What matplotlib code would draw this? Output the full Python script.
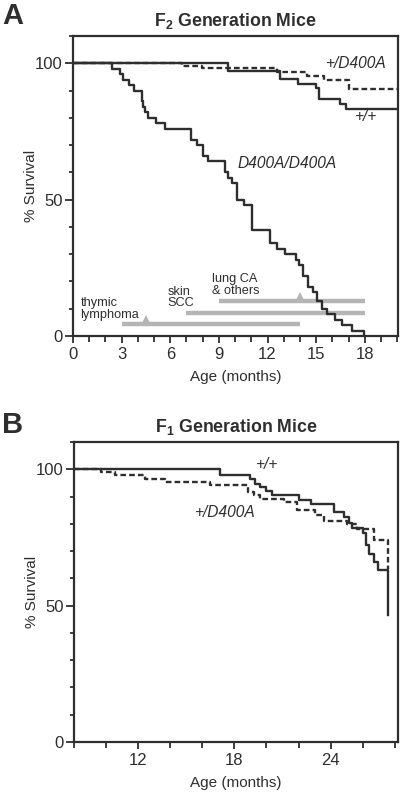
import numpy as np
import matplotlib
matplotlib.use("Agg")
import matplotlib.pyplot as plt
from matplotlib.ticker import MultipleLocator, FixedLocator

plt.rcParams['font.family'] = ['Liberation Sans', 'DejaVu Sans']
plt.rcParams['mathtext.fontset'] = 'custom'
plt.rcParams['mathtext.rm'] = 'Liberation Sans'
plt.rcParams['mathtext.bf'] = 'Liberation Sans:bold'

# Panel A - F2 generation
a_hom_t = [0, 2.43, 2.9, 3.1, 3.45, 3.75, 4.25, 4.32, 4.42, 4.65, 5.15, 5.65, 7.3, 7.65, 8.05,
           8.35, 9.35, 9.55, 9.8, 10.1, 10.55, 11.05, 12.15, 12.6, 13.05, 13.75, 13.95, 14.22,
           14.5, 14.8, 15.05, 15.35, 15.65, 16.15, 16.6, 17.2, 17.95]
a_hom_s = [100, 98, 96, 94, 92, 90, 86, 84, 82, 80, 78, 76, 72, 70, 66,
           64, 60, 58, 56, 50, 48, 39, 34, 32, 30, 28, 26, 22,
           18, 16, 13, 10, 8, 6, 4, 2, 0]
a_wt_t = [0, 9.58, 12.75, 13.9, 14.98, 15.2, 16.45, 16.87]
a_wt_s = [100, 97.1, 94.4, 92.5, 91, 87, 85.2, 83.4]
a_het_t = [0, 6.7, 7.95, 12.6, 14.45, 15.5, 17.05]
a_het_s = [100, 99, 98.3, 96.8, 95.2, 93.9, 90.6]

# tumour onset ranges (months) and peak markers
tumor_start = [3, 7, 9]
tumor_end = [14, 18, 18]
tumor_level = [4.3, 8.6, 12.8]
tumor_peak_x = [4.5, 14]
tumor_peak_y = [4.3, 12.8]
tumor_names = ['thymic\nlymphoma', 'skin\nSCC', 'lung CA\n& others']
tumor_text_x = [0.45, 5.85, 8.6]
tumor_text_y = [9.9, 14.1, 18.7]

# Panel B - F1 generation
b_wt_t = [8, 17.1, 19.0, 19.3, 19.6, 19.95, 20.35, 22.0, 22.75, 24.2, 24.85, 25.15, 25.35,
          26.0, 26.2, 26.4, 26.7, 26.95, 27.55]
b_wt_s = [100, 97.8, 96.6, 94.7, 93.5, 92.1, 90.5, 88.9, 87.2, 84.4, 82.6, 80.2, 78.3,
          76.5, 72.2, 69.1, 66.1, 63.1, 46.4]
b_het_t = [8, 9.7, 10.55, 12.4, 13.65, 16.5, 18.85, 19.2, 19.6, 21.1, 21.9, 23.05, 23.6,
           25.05, 25.65, 26.7, 27.55]
b_het_s = [100, 99, 97.8, 96.4, 95.4, 94.2, 91.8, 90.4, 89.2, 88, 85.2, 83.2, 81,
           80, 78, 74, 63.6]

ink = '#2e2e2e'
grey = '#b5b5b5'

fig = plt.figure(figsize=(4.0, 7.93), dpi=100)
axA = fig.add_axes([73/400, 1 - 336/793, 325/400, 300/793])
axB = fig.add_axes([74/400, 1 - 742/793, 324/400, 300/793])


def style(ax, xlim, xmaj, xmin):
    ax.set_xlim(*xlim)
    ax.set_ylim(0, 110)
    ax.xaxis.set_major_locator(MultipleLocator(xmaj))
    ax.xaxis.set_minor_locator(MultipleLocator(xmin))
    ax.yaxis.set_major_locator(FixedLocator([0, 50, 100]))
    ax.yaxis.set_minor_locator(MultipleLocator(10))
    for s in ax.spines.values():
        s.set_linewidth(1.6)
        s.set_color(ink)
    ax.tick_params(which='both', direction='out', color=ink, width=1.3,
                   labelsize=12, labelcolor=ink)
    ax.tick_params(axis='x', which='major', length=5, pad=3)
    ax.tick_params(axis='x', which='minor', length=4)
    ax.tick_params(axis='y', which='major', length=6, pad=1.5)
    ax.tick_params(axis='y', which='minor', length=3)
    ax.set_xlabel('Age (months)', fontsize=11, color=ink, labelpad=6)
    ax.set_ylabel('% Survival', fontsize=11, color=ink, labelpad=-2)


style(axA, (0, 20.05), 3, 1)
style(axB, (8, 28.2), 6, 2)

# Panel A
for x0, x1, y in zip(tumor_start, tumor_end, tumor_level):
    axA.hlines(y, x0, x1, color=grey, lw=3.2, zorder=1)
axA.plot(tumor_peak_x, np.array(tumor_peak_y) + 1.4, '^', color=grey, ms=7.5, mew=0, zorder=1)
for name, tx, ty in zip(tumor_names, tumor_text_x, tumor_text_y):
    axA.text(tx, ty, name, fontsize=9.2, color=ink, ha='left', va='center', linespacing=0.9)

axA.step(a_wt_t + [20.05], a_wt_s + [a_wt_s[-1]], where='post', color=ink, lw=1.7, zorder=3)
axA.step(a_het_t + [20.05], a_het_s + [a_het_s[-1]], where='post', color=ink, lw=1.7,
         dashes=(2.4, 1.3), zorder=3)
axA.step(a_hom_t, a_hom_s, where='post', color=ink, lw=1.7, zorder=3)

axA.text(17.4, 100, '+/D400A', fontsize=11.2, style='italic', color=ink, ha='center', va='center')
axA.text(18.05, 80.6, '+/+', fontsize=11.2, style='italic', color=ink, ha='center', va='center')
axA.text(13.2, 63.4, 'D400A/D400A', fontsize=11.2, style='italic', color=ink, ha='center', va='center')
axA.set_title(r'$\mathbf{F_2}$ Generation Mice', fontsize=12.8, fontweight='bold', color=ink, pad=7)

# Panel B
axB.step(b_het_t, b_het_s, where='post', color=ink, lw=1.7, dashes=(2.4, 1.3), zorder=3)
axB.step(b_wt_t, b_wt_s, where='post', color=ink, lw=1.7, zorder=3)
axB.text(20.0, 101.8, '+/+', fontsize=11.2, style='italic', color=ink, ha='center', va='center')
axB.text(17.4, 84, '+/D400A', fontsize=11.2, style='italic', color=ink, ha='center', va='center')
axB.set_title(r'$\mathbf{F_1}$ Generation Mice', fontsize=12.8, fontweight='bold', color=ink, pad=7)

fig.text(0.005, 0.997, 'A', fontsize=21, fontweight='bold', color=ink, ha='left', va='top')
fig.text(0.005, 1 - 411/793, 'B', fontsize=21, fontweight='bold', color=ink, ha='left', va='top')

fig.savefig('out.png', dpi=100)
